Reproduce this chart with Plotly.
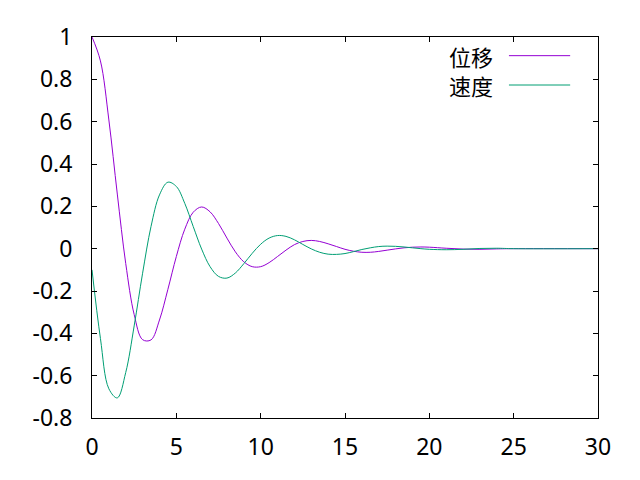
import plotly.graph_objects as go

# time samples
t = [0, 0.5, 1, 1.5, 2, 2.5, 3, 3.5, 4, 4.5, 5, 5.5, 6, 6.5, 7, 7.5, 8, 8.5, 9, 9.5,
     10, 10.5, 11, 11.5, 12, 12.5, 13, 13.5, 14, 14.5, 15, 15.5, 16, 16.5, 17, 17.5,
     18, 18.5, 19, 19.5, 20, 21, 22, 23, 24, 25, 30]

# 位移 (displacement)
displacement = [1.0, 0.887, 0.608, 0.258, -0.070, -0.311, -0.430, -0.431, -0.337, -0.192,
                -0.037, 0.092, 0.172, 0.197, 0.174, 0.119, 0.050, -0.015, -0.062, -0.085,
                -0.085, -0.066, -0.037, -0.007, 0.019, 0.034, 0.039, 0.034, 0.023, 0.010,
                -0.003, -0.012, -0.017, -0.017, -0.013, -0.007, -0.001, 0.004, 0.007, 0.008,
                0.007, 0.002, -0.002, -0.003, -0.001, 0.0, 0.0]

# 速度 (velocity)
velocity = [-0.10, -0.424, -0.662, -0.705, -0.585, -0.365, -0.116, 0.105, 0.254, 0.314,
            0.294, 0.214, 0.105, -0.002, -0.085, -0.131, -0.139, -0.115, -0.071, -0.022,
            0.021, 0.050, 0.062, 0.058, 0.042, 0.020, -0.001, -0.017, -0.026, -0.027,
            -0.023, -0.014, -0.004, 0.004, 0.010, 0.012, 0.011, 0.008, 0.004, 0.0,
            -0.003, -0.005, -0.003, 0.001, 0.002, 0.0, 0.0]

series_names = ["位移", "速度"]
series_colors = ["#9400D3", "#009E73"]

x_tick_vals = [0, 5, 10, 15, 20, 25, 30]
x_tick_text = ["0", "5", "10", "15", "20", "25", "30"]
y_tick_vals = [1, 0.8, 0.6, 0.4, 0.2, 0, -0.2, -0.4, -0.6, -0.8]
y_tick_text = ["1", "0.8", "0.6", "0.4", "0.2", "0", "-0.2", "-0.4", "-0.6", "-0.8"]

fig = go.Figure()
for name, ys, col in zip(series_names, [displacement, velocity], series_colors):
    fig.add_trace(go.Scatter(x=t, y=ys, mode="lines", name=name,
                             line=dict(color=col, width=1, shape="spline", smoothing=1.0),
                             showlegend=False))

# gnuplot-style key: text on the left, line sample on the right
key_y = [0.951, 0.874]
for name, col, ky in zip(series_names, series_colors, key_y):
    fig.add_annotation(x=0.795, y=ky, xref="paper", yref="paper", text=name,
                       showarrow=False, xanchor="right", yanchor="middle", borderpad=0,
                       font=dict(family="Noto Sans CJK SC", size=22, color="black"))
    fig.add_shape(type="line", xref="paper", yref="paper", x0=0.824, x1=0.945,
                  y0=ky, y1=ky, line=dict(color=col, width=1))

axis_common = dict(showline=True, linecolor="black", linewidth=1, mirror="ticks",
                   ticks="inside", ticklen=5, tickcolor="black", showgrid=False,
                   zeroline=False, tickfont=dict(family="Noto Sans", size=23, color="black"))

fig.update_xaxes(range=[0, 30], tickvals=x_tick_vals, ticktext=x_tick_text,
                 ticklabelstandoff=8, **axis_common)
fig.update_yaxes(range=[-0.8, 1], tickvals=y_tick_vals, ticktext=y_tick_text,
                 ticklabelstandoff=14, **axis_common)

# page body has an 8px margin, so the figure is shifted; compensate
fig.update_layout(width=632, height=472, margin=dict(l=84, r=42, t=22, b=62),
                  paper_bgcolor="white", plot_bgcolor="white")

fig.write_html("out.html")
